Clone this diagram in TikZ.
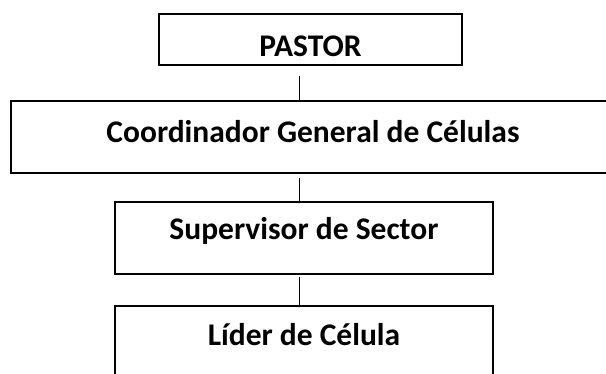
\documentclass[tikz,border=0pt]{standalone}
\usepackage{fontspec}
\setmainfont{Carlito}
\begin{document}
\begin{tikzpicture}[x=1pt,y=-1pt,
  boxnode/.style={draw=black, line width=1.8pt, anchor=north west, inner xsep=0pt, inner ysep=0pt, outer sep=0pt,
    font=\fontsize{31.5}{36}\selectfont\bfseries, align=center},
  linkline/.style={draw=black, line width=1.4pt}]
\useasboundingbox (0,0) rectangle (606,374);
\node[boxnode, minimum width=303pt, text height=43pt, text depth=8pt] (pastor) at (159,14) {PASTOR};
\node[boxnode, minimum width=604pt, text height=42pt, text depth=30pt] (coord) at (11,101) {Coordinador General de Células};
\node[boxnode, minimum width=378pt, text height=38pt, text depth=34pt] (super) at (115,202) {Supervisor de Sector};
\node[boxnode, minimum width=378pt, text height=40pt, text depth=40pt] (lider) at (115,306) {Líder de Célula};
\coordinate (p1) at (299.5,76);
\coordinate (p2) at (299.5,178);
\coordinate (p3) at (299.5,277);
\draw[linkline] (p1) -- (p1 |- coord.north);
\draw[linkline] (p2) -- (p2 |- super.north);
\draw[linkline] (p3) -- (p3 |- lider.north);
\end{tikzpicture}
\end{document}
